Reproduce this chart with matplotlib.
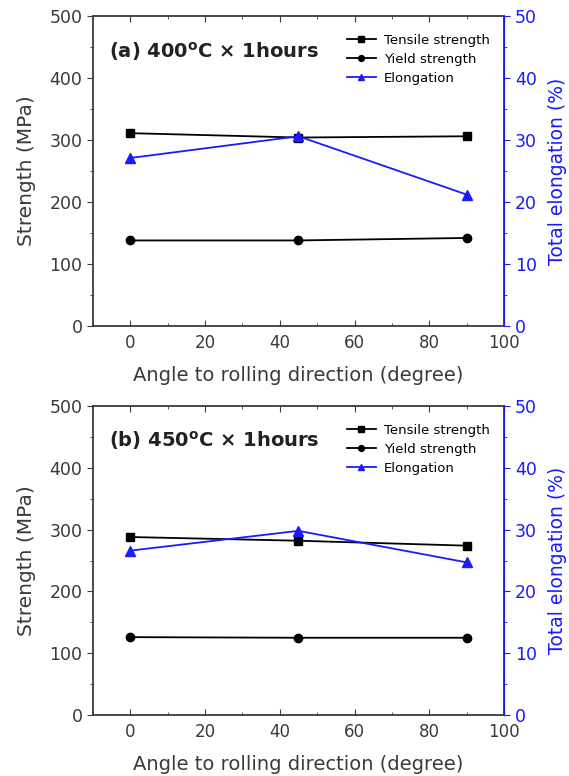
import matplotlib
matplotlib.use("Agg")
import matplotlib.pyplot as plt
from matplotlib.ticker import MultipleLocator

plt.rcParams["font.family"] = ["DejaVu Sans"]

angle = [0, 45, 90]

# (a) 400C x 1h
tensile_a = [311, 304, 306]
yield_a = [138, 138, 142]
elong_a = [27.1, 30.6, 21.2]

# (b) 450C x 1h
tensile_b = [288, 282, 274]
yield_b = [126, 125, 125]
elong_b = [26.6, 29.8, 24.7]

titles = ["(a) 400$^\\mathregular{o}$C \u00d7 1hours", "(b) 450$^\\mathregular{o}$C \u00d7 1hours"]
text_color = "#3a3a3a"
blue = "#1a1aff"

fig = plt.figure(figsize=(5.69, 7.76), dpi=100)
positions = [[0.1634, 0.5799, 0.7223, 0.3995], [0.1634, 0.0786, 0.7223, 0.3982]]


def panel(pos, tensile, yld, elong, title):
    ax = fig.add_axes(pos)
    ax2 = ax.twinx()
    l1, = ax.plot(angle, tensile, color="black", lw=1.3, marker="s", ms=6, label="Tensile strength")
    l2, = ax.plot(angle, yld, color="black", lw=1.3, marker="o", ms=6, label="Yield strength")
    l3, = ax2.plot(angle, elong, color=blue, lw=1.3, marker="^", ms=7, label="Elongation")

    ax.set_xlim(-10, 100)
    ax.set_ylim(0, 500)
    ax2.set_ylim(0, 50)
    ax.xaxis.set_major_locator(MultipleLocator(20))
    ax.xaxis.set_minor_locator(MultipleLocator(10))
    ax.yaxis.set_major_locator(MultipleLocator(100))
    ax.yaxis.set_minor_locator(MultipleLocator(50))
    ax2.yaxis.set_major_locator(MultipleLocator(10))
    ax2.yaxis.set_minor_locator(MultipleLocator(5))

    for side in ["left", "bottom", "top"]:
        ax.spines[side].set_color(text_color)
        ax.spines[side].set_linewidth(1.3)
    ax2.spines["right"].set_color(blue)
    ax2.spines["right"].set_linewidth(1.3)
    ax2.spines["left"].set_visible(False)
    ax2.spines["bottom"].set_visible(False)
    ax2.spines["top"].set_visible(False)

    ax.tick_params(axis="both", which="major", direction="out", length=4, labelsize=12.5,
                   colors=text_color)
    ax.tick_params(axis="both", which="minor", direction="out", length=2.5, colors=text_color)
    ax.tick_params(axis="x", which="major", pad=5.5, labelsize=12)
    ax.tick_params(axis="x", which="both", top=True, direction="in")
    ax2.tick_params(axis="y", which="major", direction="out", length=4, labelsize=12.5,
                    colors=blue, pad=4)
    ax2.tick_params(axis="y", which="minor", direction="out", length=2.5, colors=blue)

    ax.set_xlabel("Angle to rolling direction (degree)", fontsize=14, color=text_color, labelpad=10)
    ax.set_ylabel("Strength (MPa)", fontsize=14.5, color=text_color, labelpad=10)
    ax2.set_ylabel("Total elongation (%)", fontsize=13.5, color=blue, labelpad=8)

    ax.text(0.04, 0.887, title, transform=ax.transAxes, fontsize=14, fontweight="bold",
            color="#222222", va="center", ha="left")
    ax.legend(handles=[l1, l2, l3], loc="upper left", bbox_to_anchor=(0.595, 0.972),
              frameon=False, fontsize=9.5, handlelength=2.2, handletextpad=0.6,
              labelspacing=0.45, markerscale=0.7, borderpad=0.2)


panel(positions[0], tensile_a, yield_a, elong_a, titles[0])
panel(positions[1], tensile_b, yield_b, elong_b, titles[1])

fig.savefig("out.png", dpi=100)
